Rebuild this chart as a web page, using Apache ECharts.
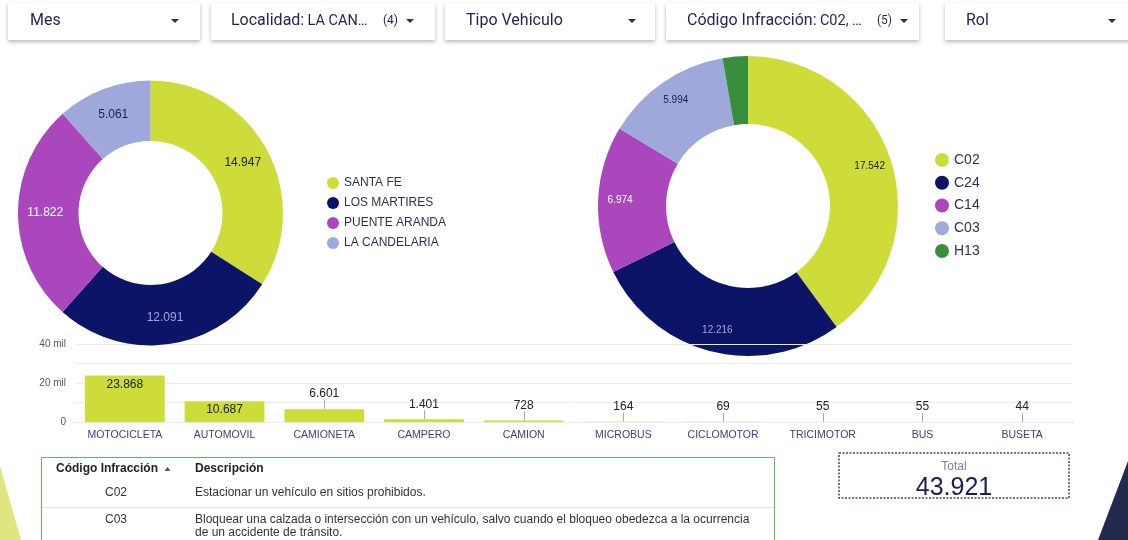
<!DOCTYPE html>
<html>
<head>
<meta charset="utf-8">
<script src="https://cdn.jsdelivr.net/npm/echarts@6/dist/echarts.min.js"></script>
<style>
html,body{margin:0;padding:0;background:#fff;}
#c{width:1128px;height:540px;}
</style>
</head>
<body>
<div id="c"></div>
<script>
// ---------- data ----------
const localidades = ['SANTA FE', 'LOS MARTIRES', 'PUENTE ARANDA', 'LA CANDELARIA'];
const localidadValues = [14947, 12091, 11822, 5061];

const codigos = ['C02', 'C24', 'C14', 'C03', 'H13'];
const codigoValues = [17542, 12216, 6974, 5994, 1195];

const vehiculos = ['MOTOCICLETA', 'AUTOMOVIL', 'CAMIONETA', 'CAMPERO', 'CAMION', 'MICROBUS', 'CICLOMOTOR', 'TRICIMOTOR', 'BUS', 'BUSETA'];
const vehiculoValues = [23868, 10687, 6601, 1401, 728, 164, 69, 55, 55, 44];

const yTicks = [0, 10000, 20000, 30000, 40000];

const filterLabels = ['Mes', 'Localidad:', 'Tipo Vehiculo', 'Código Infracción:', 'Rol'];
const filterValues = ['', 'LA CAN…', '', 'C02, …', ''];
const filterCounts = ['', '(4)', '', '(5)', ''];

const tableHeaders = ['Código Infracción', 'Descripción'];
const tableCodes = ['C02', 'C03'];
const tableDescriptions = [
  'Estacionar un vehículo en sitios prohibidos.',
  'Bloquear una calzada o intersección con un vehículo, salvo cuando el bloqueo obedezca a la ocurrencia de un accidente de tránsito.'
];
const totalLabel = 'Total';

// ---------- styles ----------
const LIME = '#cddc39', NAVY = '#0b1466', PURPLE = '#ab47bc', LAV = '#9fa8da', GREEN = '#388e3c';
const palette5 = [LIME, NAVY, PURPLE, LAV, GREEN];
const labelColors = ['#222', '#9fa8da', '#ffffff', '#1a1f4f', '#ffffff'];
const FONT = '"Liberation Sans", Arial, sans-serif';
const UIFONT = 'Roboto, "Liberation Sans", Arial, sans-serif';
const TXT = '#1f2353';

const fmt = v => String(v).replace(/\B(?=(\d{3})+(?!\d))/g, '.');
const total = localidadValues.reduce((a, b) => a + b, 0);

const chart = echarts.init(document.getElementById('c'));

// ---------- graphics (filters, table, scorecard, decorations) ----------
const boxes = [
  {x: 8, w: 192, tx: 30, arrow: 175},
  {x: 211, w: 224, tx: 231, arrow: 410, cx: 383},
  {x: 445, w: 210, tx: 466, arrow: 632},
  {x: 666, w: 253, tx: 687, arrow: 904, cx: 877},
  {x: 945, w: 200, tx: 966, arrow: 1112}
];
const graphics = [];
boxes.forEach((b, i) => {
  graphics.push({
    type: 'rect', shape: {x: b.x, y: 3, width: b.w, height: 37},
    style: {fill: '#fff', shadowBlur: 4, shadowOffsetY: 2, shadowColor: 'rgba(0,0,0,0.28)'}, z: 1
  });
  graphics.push({
    type: 'text', z: 2,
    style: {
      x: b.tx, y: 21, verticalAlign: 'middle',
      text: filterValues[i] ? '{a|' + filterLabels[i] + '} {b|' + filterValues[i] + '}' : '{a|' + filterLabels[i] + '}',
      rich: {
        a: {fontSize: 16, fontFamily: UIFONT, fill: TXT, color: TXT},
        b: {fontSize: 14.5, fontFamily: UIFONT, fill: TXT, color: TXT}
      }
    }
  });
  if (filterCounts[i]) {
    graphics.push({type: 'text', z: 2, style: {x: b.cx, y: 21, verticalAlign: 'middle', text: filterCounts[i], fontSize: 12, fontFamily: UIFONT, fill: TXT}});
  }
  graphics.push({type: 'polygon', z: 2, shape: {points: [[b.arrow - 4, 19], [b.arrow + 4, 19], [b.arrow, 23]]}, style: {fill: '#333'}});
});

// decorations
graphics.push({type: 'polygon', shape: {points: [[0, 466], [21, 540], [0, 540]]}, style: {fill: '#dfe57f'}});
graphics.push({type: 'polygon', shape: {points: [[1128, 461], [1098, 540], [1128, 540]]}, style: {fill: '#232a4e'}});

// scorecard
graphics.push({type: 'rect', shape: {x: 839, y: 453, width: 230, height: 45}, style: {fill: '#fff', stroke: '#3f4470', lineWidth: 1.5, lineDash: [2, 1.5]}});
graphics.push({type: 'text', style: {x: 954, y: 467, align: 'center', verticalAlign: 'middle', text: totalLabel, fontSize: 12, fontFamily: FONT, fill: '#7c809c'}});
graphics.push({type: 'text', style: {x: 954, y: 488, align: 'center', verticalAlign: 'middle', text: fmt(total), fontSize: 25, fontFamily: FONT, fill: '#1a1f4f'}});

// table
graphics.push({type: 'rect', shape: {x: 41.5, y: 457.5, width: 733, height: 120}, style: {fill: 'none', stroke: '#66b266', lineWidth: 1}});
graphics.push({type: 'text', style: {x: 56, y: 469, verticalAlign: 'middle', text: tableHeaders[0], fontSize: 12, fontWeight: 'bold', fontFamily: FONT, fill: '#222'}});
graphics.push({type: 'polygon', shape: {points: [[164.5, 471], [170.5, 471], [167.5, 467]]}, style: {fill: '#555'}});
graphics.push({type: 'text', style: {x: 195, y: 469, verticalAlign: 'middle', text: tableHeaders[1], fontSize: 12, fontWeight: 'bold', fontFamily: FONT, fill: '#222'}});
const rowY = [493, 520];
tableCodes.forEach((c, i) => {
  graphics.push({type: 'text', style: {x: 116, y: rowY[i], align: 'center', verticalAlign: 'middle', text: c, fontSize: 12, fontFamily: FONT, fill: '#333'}});
  graphics.push({type: 'text', style: {x: 195, y: rowY[i] - 6.5, verticalAlign: 'top', text: tableDescriptions[i], width: 572, overflow: 'break', lineHeight: 13, fontSize: 12, fontFamily: FONT, fill: '#333'}});
});
graphics.push({type: 'line', shape: {x1: 42, y1: 507.5, x2: 774, y2: 507.5}, style: {stroke: '#e3e3e3', lineWidth: 1}});

// ---------- chart option ----------
const pieData = (names, vals) => names.map((n, i) => ({
  name: n, value: vals[i],
  itemStyle: {color: palette5[i]},
  label: {color: labelColors[i]}
}));

const legendData = (names) => names.map((n, i) => ({name: n, itemStyle: {color: palette5[i]}}));

const option = {
  backgroundColor: '#fff',
  animation: false,
  textStyle: {fontFamily: FONT},
  graphic: graphics,
  legend: [
    {
      data: legendData(localidades), orient: 'vertical', left: 327, top: 177, padding: 0,
      icon: 'circle', itemWidth: 12, itemHeight: 12, itemGap: 8,
      textStyle: {fontSize: 12, color: '#2e3150', fontFamily: FONT}, selectedMode: false
    },
    {
      data: legendData(codigos), orient: 'vertical', left: 935, top: 153, padding: 0,
      icon: 'circle', itemWidth: 14, itemHeight: 14, itemGap: 8.75,
      textStyle: {fontSize: 14, color: '#2e3150', fontFamily: FONT}, selectedMode: false
    }
  ],
  grid: {left: 75, right: 56, top: 344, bottom: 118},
  xAxis: {
    type: 'category', data: vehiculos,
    axisTick: {show: false},
    axisLine: {lineStyle: {color: '#8a8fae', width: 1}},
    axisLabel: {interval: 0, fontSize: 10.5, color: '#3d4270', margin: 8, fontFamily: FONT}
  },
  yAxis: {
    type: 'value', min: yTicks[0], max: yTicks[yTicks.length - 1], interval: yTicks[1] - yTicks[0], z: 3,
    axisLine: {show: false}, axisTick: {show: false},
    splitLine: {lineStyle: {color: '#ebebeb', width: 1}},
    axisLabel: {
      fontSize: 10, color: '#555', margin: 9, fontFamily: FONT,
      formatter: v => v === 0 ? '0' : (v % 20000 === 0 ? (v / 1000) + ' mil' : '')
    }
  },
  series: [
    {
      type: 'pie', z: 5, center: [150.5, 213], radius: [72, 132.5],
      startAngle: 90, clockwise: true, silent: true,
      itemStyle: {borderWidth: 0},
      label: {show: true, position: 'inside', fontSize: 12, fontFamily: FONT},
      labelLine: {show: false},
      data: pieData(localidades, localidadValues).map(d => Object.assign(d, {label: Object.assign(d.label, {formatter: fmt(d.value)})}))
    },
    {
      type: 'pie', z: 1, center: [748, 206], radius: [82, 150],
      startAngle: 90, clockwise: true, silent: true,
      itemStyle: {borderWidth: 0},
      label: {show: false}, labelLine: {show: false},
      data: pieData(codigos, codigoValues)
    },
    {
      type: 'pie', z: 6, center: [748, 206], radius: [100, 150],
      startAngle: 90, clockwise: true, silent: true, minShowLabelAngle: 15,
      itemStyle: {color: 'rgba(0,0,0,0)'},
      label: {show: true, position: 'inside', fontSize: 10, fontFamily: FONT},
      labelLine: {show: false},
      data: pieData(codigos, codigoValues).map(d => Object.assign(d, {itemStyle: {color: 'rgba(0,0,0,0)'}, label: Object.assign(d.label, {formatter: fmt(d.value)})}))
    },
    {
      type: 'bar', z: 4, barCategoryGap: '20%', silent: true,
      itemStyle: {color: LIME},
      data: vehiculoValues.map(v => ({
        value: v,
        label: v >= 10000
          ? {show: true, position: 'insideTop', distance: 3, formatter: fmt(v), fontSize: 12, color: '#222'}
          : {show: true, position: 'top', distance: 9, formatter: fmt(v), fontSize: 12, color: '#222'}
      }))
    },
    {
      type: 'custom', z: 4, silent: true,
      data: vehiculoValues.map((v, i) => [i, v]).filter(d => d[1] < 10000),
      renderItem: (params, api) => {
        const p = api.coord([api.value(0), api.value(1)]);
        return {
          type: 'line',
          shape: {x1: Math.round(p[0]) + 0.5, y1: p[1], x2: Math.round(p[0]) + 0.5, y2: p[1] - 9},
          style: {stroke: '#aaaaaa', lineWidth: 1}
        };
      }
    }
  ]
};
chart.setOption(option);
</script>
</body>
</html>
